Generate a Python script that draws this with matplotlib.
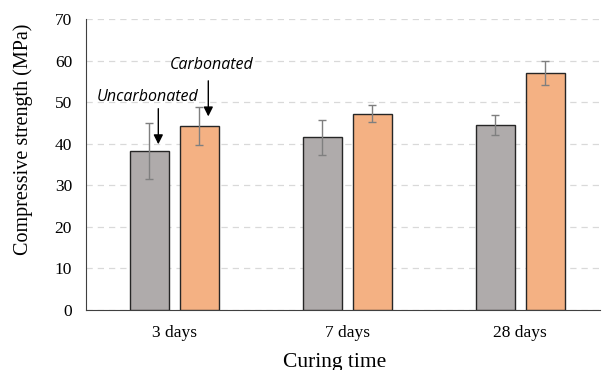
import numpy as np
import matplotlib.pyplot as plt

# dane
dni = ["3 days", "7 days", "28 days"]
niekarbonizowany = [38.2, 41.5, 44.5]
niekarbonizowany_err = [6.7, 4.2, 2.3]
karbonizowany = [44.3, 47.2, 57.0]
karbonizowany_err = [4.5, 2.0, 2.8]

x = np.arange(len(dni))
szer = 0.225
przes = 0.145

fig = plt.figure(figsize=(6.07, 3.70), dpi=100)
ax = fig.add_axes([0.1417, 0.1622, 0.8463, 0.7864])

ax.bar(x - przes, niekarbonizowany, szer, color="#afabab", edgecolor="#262626",
       linewidth=1.0, zorder=3)
ax.bar(x + przes, karbonizowany, szer, color="#f4b183", edgecolor="#262626",
       linewidth=1.0, zorder=3)
ax.errorbar(x - przes, niekarbonizowany, yerr=niekarbonizowany_err, fmt="none",
            ecolor="#7f7f7f", elinewidth=1.0, capsize=3, capthick=1.0, zorder=4)
ax.errorbar(x + przes, karbonizowany, yerr=karbonizowany_err, fmt="none",
            ecolor="#7f7f7f", elinewidth=1.0, capsize=3, capthick=1.0, zorder=4)

ax.set_xlim(-0.51, 2.46)
ax.set_ylim(0, 70)
ax.set_yticks(range(0, 71, 10))
ax.set_xticks(x)
ax.set_xticklabels(dni)
ax.yaxis.grid(True, linestyle=(0, (5, 4)), color="#d9d9d9", linewidth=0.9, zorder=0)

for s in ["top", "right"]:
    ax.spines[s].set_visible(False)
ax.spines["left"].set_color("#404040")
ax.spines["bottom"].set_color("#404040")
ax.tick_params(length=0, labelsize=12.5)
ax.tick_params(axis="x", pad=11)
ax.tick_params(axis="y", pad=10)
for lab in ax.get_xticklabels() + ax.get_yticklabels():
    lab.set_family("Liberation Serif")

ax.set_ylabel("Compressive strength (MPa)", family="Liberation Serif", fontsize=14.5)
ax.yaxis.set_label_coords(-0.1226, 0.588)
ax.yaxis.label.set_va("center")
ax.set_xlabel("Curing time", family="Liberation Serif", fontsize=15.5)
ax.xaxis.set_label_coords(0.484, -0.182)
ax.xaxis.label.set_va("center")

# strzalki z opisami
ax.annotate("", xy=(-0.092, 39.2), xytext=(-0.092, 49.1),
            arrowprops=dict(arrowstyle="-|>", color="black", lw=1.0, mutation_scale=14))
ax.text(-0.156, 51.2, "Uncarbonated", ha="center", va="center", style="italic",
        family="Open Sans", fontsize=11.5)
ax.annotate("", xy=(0.197, 45.9), xytext=(0.197, 55.8),
            arrowprops=dict(arrowstyle="-|>", color="black", lw=1.0, mutation_scale=14))
ax.text(0.214, 58.9, "Carbonated", ha="center", va="center", style="italic",
        family="Open Sans", fontsize=11.5)

fig.savefig("out.png", dpi=100)
